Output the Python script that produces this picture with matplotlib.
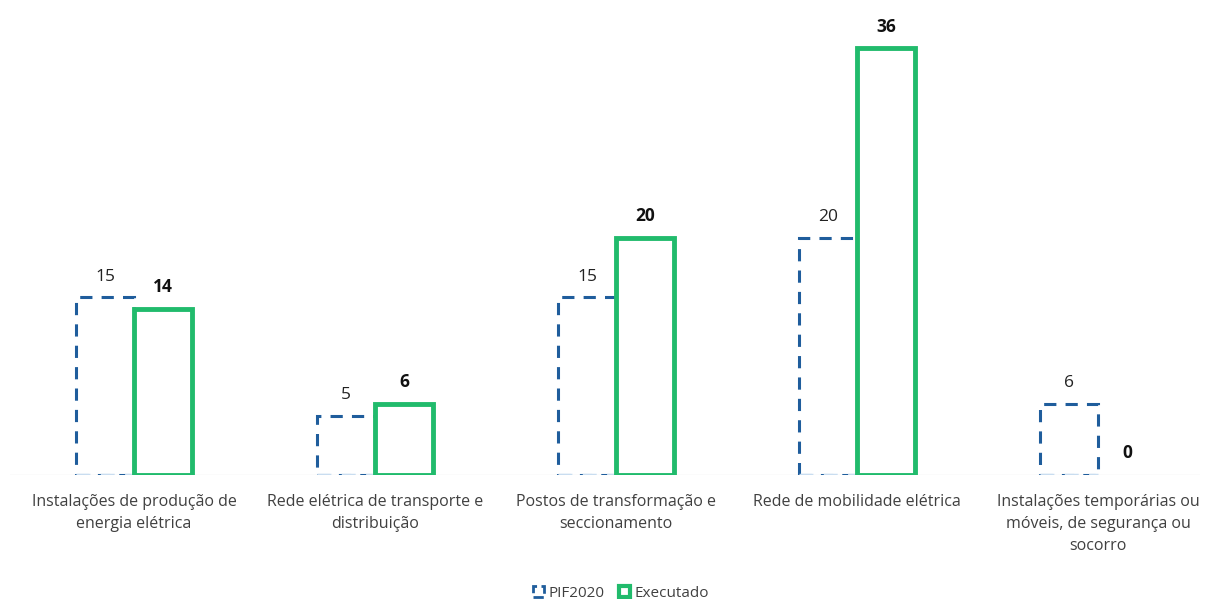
import numpy as np
import matplotlib.pyplot as plt
from matplotlib.patches import Patch

plt.rcParams['font.family'] = ['Open Sans', 'DejaVu Sans']

categorias = [
    "Instalações de produção de\nenergia elétrica",
    "Rede elétrica de transporte e\ndistribuição",
    "Postos de transformação e\nseccionamento",
    "Rede de mobilidade elétrica",
    "Instalações temporárias ou\nmóveis, de segurança ou\nsocorro",
]
pif2020 = [15, 5, 15, 20, 6]
executado = [14, 6, 20, 36, 0]

azul = "#1f5d9c"
azul_claro = "#c9ddf0"
verde = "#21bb6c"

fig = plt.figure(figsize=(12.06, 5.99), dpi=100)
# axes placed in pixels: x 10..1200, y baseline at 475 from top
ax = fig.add_axes([10 / 1206, (599 - 475) / 599, 1190 / 1206, 455 / 599])

x = np.arange(len(categorias))
w = 0.24

ax.bar(x - w / 2, pif2020, width=w, facecolor="none", edgecolor=azul,
       linewidth=2.2, linestyle=(0, (4, 3)), zorder=2)
# faint bottom edge of the dashed bars
ax.hlines([0] * len(x), x - w, x, colors=azul_claro, linewidth=2.5,
          linestyles=(0, (4, 3)), zorder=3)
# a bar of zero height shows nothing in the reference
lw_exec = [3.5 if v > 0 else 0 for v in executado]
ax.bar(x + w / 2, executado, width=w, facecolor="none", edgecolor=verde,
       linewidth=lw_exec, zorder=4)

for xi, v in zip(x, pif2020):
    ax.annotate(str(v), (xi - w / 2, v), xytext=(0, 9), textcoords="offset points",
                ha="center", va="bottom", fontsize=12.5, color="#222222")
for xi, v in zip(x, executado):
    ax.annotate(str(v), (xi + w / 2, v), xytext=(0, 9), textcoords="offset points",
                ha="center", va="bottom", fontsize=12.5, fontweight="bold", color="#111111")

ax.axhline(0, color="#eeeeee", linewidth=1, zorder=1)

ax.set_xlim(-0.5145, 4.423)
ax.set_ylim(0, 455 / 11.86)
ax.set_xticks(x)
ax.set_xticklabels(categorias, fontsize=11.5, color="#404040", linespacing=1.5)
ax.tick_params(axis="x", length=0, pad=14)
ax.set_yticks([])
for s in ax.spines.values():
    s.set_visible(False)

handles = [
    Patch(facecolor="none", edgecolor=azul, linestyle="--", linewidth=2),
    Patch(facecolor="none", edgecolor=verde, linewidth=3),
]
fig.legend(handles, ["PIF2020", "Executado"], loc="center", bbox_to_anchor=(0.515, 0.01),
           ncol=2, frameon=False, fontsize=11, handlelength=0.7, handleheight=0.7,
           handletextpad=0.3, columnspacing=1.0, labelcolor="#404040")

fig.savefig("out.png", dpi=100, facecolor="white")
